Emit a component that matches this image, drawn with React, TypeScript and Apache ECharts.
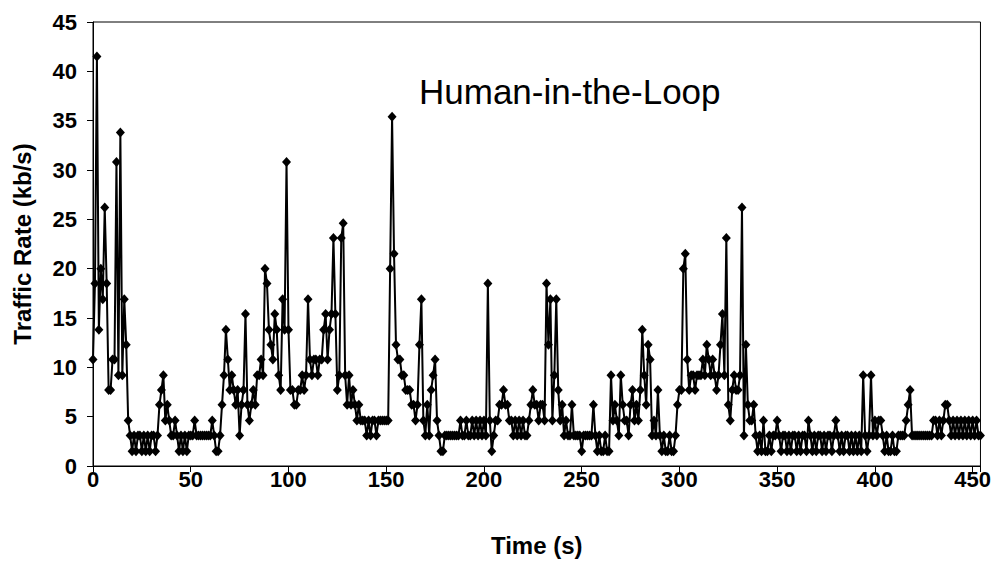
import React, { useEffect, useRef } from "react";
import * as echarts from "echarts";

// Traffic rate (kb/s), one sample per second
const rateSec0to99 = [
  10.8, 18.5, 41.5, 13.8, 20, 16.9, 26.2, 18.5, 7.7, 7.7,
  10.8, 10.8, 30.8, 9.2, 33.8, 9.2, 16.9, 12.3, 4.6, 3.1,
  1.5, 3.1, 1.5, 3.1, 3.1, 1.5, 3.1, 1.5, 3.1, 1.5,
  3.1, 3.1, 1.5, 3.1, 6.2, 7.7, 9.2, 4.6, 6.2, 4.6,
  3.1, 3.1, 4.6, 3.1, 1.5, 3.1, 1.5, 3.1, 1.5, 3.1,
  3.1, 3.1, 4.6, 3.1, 3.1, 3.1, 3.1, 3.1, 3.1, 3.1,
  3.1, 4.6, 3.1, 1.5, 1.5, 3.1, 6.2, 9.2, 13.8, 10.8,
  7.7, 9.2, 7.7, 6.2, 7.7, 3.1, 6.2, 7.7, 15.4, 6.2,
  4.6, 6.2, 7.7, 6.2, 9.2, 9.2, 10.8, 9.2, 20, 18.5,
  13.8, 12.3, 10.8, 15.4, 13.8, 9.2, 7.7, 16.9, 13.8, 30.8,
];
const rateSec100to199 = [
  13.8, 7.7, 7.7, 6.2, 6.2, 7.7, 7.7, 9.2, 7.7, 9.2,
  16.9, 10.8, 9.2, 10.8, 10.8, 9.2, 10.8, 10.8, 13.8, 15.4,
  10.8, 13.8, 15.4, 23.1, 15.4, 7.7, 9.2, 23.1, 24.6, 9.2,
  6.2, 9.2, 6.2, 7.7, 6.2, 4.6, 6.2, 4.6, 4.6, 4.6,
  3.1, 4.6, 3.1, 4.6, 4.6, 3.1, 4.6, 4.6, 4.6, 4.6,
  4.6, 4.6, 20, 35.4, 21.5, 12.3, 10.8, 10.8, 9.2, 9.2,
  7.7, 7.7, 7.7, 6.2, 6.2, 4.6, 6.2, 12.3, 16.9, 4.6,
  3.1, 6.2, 3.1, 7.7, 9.2, 10.8, 4.6, 3.1, 1.5, 1.5,
  3.1, 3.1, 3.1, 3.1, 3.1, 3.1, 3.1, 3.1, 4.6, 3.1,
  3.1, 4.6, 3.1, 3.1, 4.6, 3.1, 4.6, 3.1, 4.6, 3.1,
];
const rateSec200to299 = [
  4.6, 3.1, 18.5, 4.6, 1.5, 3.1, 4.6, 4.6, 6.2, 6.2,
  7.7, 6.2, 6.2, 4.6, 4.6, 3.1, 4.6, 3.1, 4.6, 3.1,
  4.6, 3.1, 3.1, 4.6, 6.2, 7.7, 6.2, 6.2, 4.6, 6.2,
  6.2, 4.6, 18.5, 12.3, 16.9, 4.6, 9.2, 16.9, 7.7, 4.6,
  6.2, 3.1, 4.6, 3.1, 3.1, 6.2, 3.1, 3.1, 3.1, 3.1,
  1.5, 3.1, 3.1, 3.1, 3.1, 3.1, 6.2, 3.1, 1.5, 3.1,
  1.5, 1.5, 3.1, 1.5, 1.5, 9.2, 4.6, 6.2, 4.6, 3.1,
  9.2, 6.2, 4.6, 4.6, 3.1, 6.2, 7.7, 4.6, 6.2, 4.6,
  7.7, 13.8, 9.2, 6.2, 12.3, 10.8, 3.1, 4.6, 3.1, 7.7,
  3.1, 1.5, 3.1, 1.5, 1.5, 3.1, 1.5, 1.5, 3.1, 6.2,
];
const rateSec300to399 = [
  7.7, 7.7, 20, 21.5, 10.8, 7.7, 9.2, 9.2, 7.7, 9.2,
  9.2, 9.2, 10.8, 9.2, 12.3, 10.8, 9.2, 10.8, 9.2, 7.7,
  9.2, 12.3, 15.4, 9.2, 23.1, 6.2, 4.6, 7.7, 9.2, 7.7,
  7.7, 9.2, 26.2, 3.1, 12.3, 6.2, 4.6, 4.6, 6.2, 3.1,
  1.5, 3.1, 1.5, 4.6, 1.5, 1.5, 3.1, 1.5, 3.1, 3.1,
  4.6, 3.1, 1.5, 3.1, 3.1, 1.5, 3.1, 1.5, 3.1, 3.1,
  1.5, 3.1, 1.5, 3.1, 3.1, 1.5, 4.6, 3.1, 1.5, 3.1,
  1.5, 3.1, 3.1, 1.5, 3.1, 1.5, 3.1, 3.1, 1.5, 3.1,
  4.6, 3.1, 1.5, 3.1, 1.5, 3.1, 3.1, 1.5, 3.1, 1.5,
  3.1, 1.5, 3.1, 1.5, 9.2, 3.1, 1.5, 3.1, 9.2, 3.1,
];
const rateSec400to454 = [
  4.6, 3.1, 4.6, 4.6, 3.1, 1.5, 3.1, 1.5, 1.5, 3.1,
  1.5, 1.5, 3.1, 3.1, 3.1, 3.1, 4.6, 6.2, 7.7, 3.1,
  3.1, 3.1, 3.1, 3.1, 3.1, 3.1, 3.1, 3.1, 3.1, 3.1,
  4.6, 4.6, 3.1, 4.6, 3.1, 4.6, 6.2, 6.2, 4.6, 3.1,
  4.6, 3.1, 4.6, 3.1, 4.6, 3.1, 4.6, 3.1, 4.6, 3.1,
  4.6, 3.1, 4.6, 3.1, 3.1,
];

const SAMPLE_PERIOD_S = 1;
const X_MAX = 454;
const X_TICK = 50;
const Y_MAX = 45;
const Y_TICK = 5;

const TITLE = "Human-in-the-Loop";
const X_NAME = "Time (s)";
const Y_NAME = "Traffic Rate (kb/s)";

const FONT = "'Liberation Sans', Arial, Helvetica, sans-serif";

export default function App() {
  const ref = useRef<HTMLDivElement>(null);

  useEffect(() => {
    if (!ref.current) return;
    const chart = echarts.init(ref.current, undefined, { renderer: "svg" });
    const rates = [
      ...rateSec0to99,
      ...rateSec100to199,
      ...rateSec200to299,
      ...rateSec300to399,
      ...rateSec400to454,
    ];
    const points = rates.map((v, i) => [i * SAMPLE_PERIOD_S, v]);

    chart.setOption({
      animation: false,
      backgroundColor: "#fff",
      title: {
        text: TITLE,
        left: 414,
        top: 69,
        textStyle: {
          fontFamily: FONT,
          fontSize: 35,
          fontWeight: "normal",
          color: "#000",
        },
      },
      grid: {
        left: 93,
        right: 11,
        top: 22,
        bottom: 96,
        show: true,
        borderColor: "#000",
        borderWidth: 1,
        backgroundColor: "transparent",
      },
      xAxis: {
        type: "value",
        min: 0,
        max: X_MAX,
        interval: X_TICK,
        name: X_NAME,
        nameLocation: "middle",
        nameGap: 67,
        nameTextStyle: {
          fontFamily: FONT,
          fontSize: 24,
          fontWeight: "bold",
          color: "#000",
          verticalAlign: "top",
        },
        axisLine: { show: true, lineStyle: { color: "#000", width: 1 } },
        axisTick: { show: true, length: 6, lineStyle: { color: "#000" } },
        splitLine: { show: false },
        axisLabel: {
          margin: 2,
          fontFamily: FONT,
          fontSize: 22,
          fontWeight: "bold",
          color: "#000",
          formatter: (v: number) => (v % X_TICK === 0 ? String(v) : ""),
        },
      },
      yAxis: {
        type: "value",
        min: 0,
        max: Y_MAX,
        interval: Y_TICK,
        name: Y_NAME,
        nameLocation: "middle",
        nameGap: 59,
        nameTextStyle: {
          fontFamily: FONT,
          fontSize: 24,
          fontWeight: "bold",
          color: "#000",
        },
        axisLine: { show: true, lineStyle: { color: "#000", width: 1 } },
        axisTick: { show: true, length: 6, lineStyle: { color: "#000" } },
        splitLine: { show: false },
        axisLabel: {
          margin: 16,
          fontFamily: FONT,
          fontSize: 22,
          fontWeight: "bold",
          color: "#000",
        },
      },
      series: [
        {
          type: "line",
          data: points,
          symbol: "diamond",
          symbolSize: [9, 10],
          showAllSymbol: true,
          lineStyle: { color: "#000", width: 2 },
          itemStyle: { color: "#000" },
          clip: false,
        },
      ],
    });

    return () => chart.dispose();
  }, []);

  return (
    <div
      ref={ref}
      style={{ position: "fixed", left: 0, top: 0, width: 994, height: 562 }}
    />
  );
}
